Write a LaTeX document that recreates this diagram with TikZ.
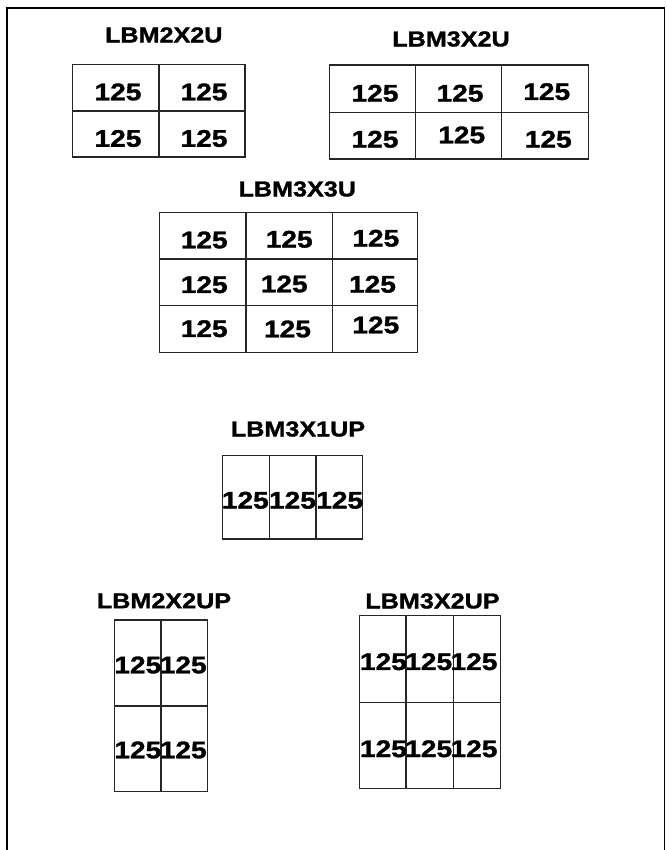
\documentclass[tikz,border=0pt]{standalone}
\usepackage{fontspec}
\newfontfamily\lbf{Liberation Sans Bold}[FakeStretch=1.17,FakeBold=1.4]
\begin{document}
\begin{tikzpicture}[x=1pt,y=-1pt,
  grd/.style={line width=1.2pt, draw=black!85},
  num/.style={font=\lbf\fontsize{24}{24}\selectfont, inner sep=0pt},
  ttl/.style={font=\lbf\fontsize{21.5}{21.5}\selectfont, inner sep=0pt}]
\useasboundingbox (0,0) rectangle (666,850);
% frame
\draw[line width=2.2pt] (7,850) -- (7,7.7) -- (664,7.7);
\draw[line width=1.2pt] (664.8,6.6) -- (664.8,850);

% ---------- LBM2X2U
\node[ttl] (t1) at (163.8,35) {LBM2X2U};
\draw[grd] (72.7,64.3) rectangle (245,157);
\draw[grd] (159,64.3) -- (159,157) (72.7,111) -- (245,111);
\node[num] (a11) at (118,92) {125};
\node[num] (a12) at (204,92) {125};
\node[num] (a21) at (118,138.5) {125};
\node[num] (a22) at (204,138.5) {125};

% ---------- LBM3X2U
\node[ttl] (t2) at (451,39) {LBM3X2U};
\draw[grd] (329.3,65) rectangle (588.3,159);
\draw[grd] (415.7,65) -- (415.7,159) (501.7,65) -- (501.7,159) (329.3,112.3) -- (588.3,112.3);
\node[num] (b11) at (375,93.3) {125};
\node[num] (b12) at (460,93.3) {125};
\node[num] (b13) at (546.7,91.7) {125};
\node[num] (b21) at (375,139.3) {125};
\node[num] (b22) at (461.7,135) {125};
\node[num] (b23) at (548.3,139.3) {125};

% ---------- LBM3X3U
\node[ttl] (t3) at (297.3,189) {LBM3X3U};
\draw[grd] (159.3,212.3) rectangle (417.7,352.3);
\draw[grd] (246,212.3) -- (246,352.3) (332.3,212.3) -- (332.3,352.3)
  (159.3,259) -- (417.7,259) (159.3,305.7) -- (417.7,305.7);
\node[num] (c11) at (204.2,240) {125};
\node[num] (c12) at (289.2,239.3) {125};
\node[num] (c13) at (375.8,238.3) {125};
\node[num] (c21) at (204.2,284.7) {125};
\node[num] (c22) at (284.2,284) {125};
\node[num] (c23) at (372.5,284.3) {125};
\node[num] (c31) at (204.2,328.7) {125};
\node[num] (c32) at (287.5,329) {125};
\node[num] (c33) at (375.8,325) {125};

% ---------- LBM3X1UP
\node[ttl] (t4) at (298,429) {LBM3X1UP};
\draw[grd] (222.7,455.7) rectangle (362.7,539);
\draw[grd] (269.3,455.7) -- (269.3,539) (316,455.7) -- (316,539);
\node[num] (d11) at (245.3,500.3) {125};
\node[num] (d12) at (292.5,500.3) {125};
\node[num] (d13) at (339.7,500.3) {125};

% ---------- LBM2X2UP
\node[ttl] (t5) at (164,600.8) {LBM2X2UP};
\draw[grd] (114.3,620) rectangle (207.7,791.7);
\draw[grd] (161,620) -- (161,791.7) (114.3,706) -- (207.7,706);
\node[num] (e11) at (137.8,665) {125};
\node[num] (e12) at (183.2,665) {125};
\node[num] (e21) at (137.8,750) {125};
\node[num] (e22) at (183.2,750) {125};

% ---------- LBM3X2UP
\node[ttl] (t6) at (432.5,601) {LBM3X2UP};
\draw[grd] (359.3,615.7) rectangle (500.7,788.3);
\draw[grd] (406,615.7) -- (406,788.3) (453.3,615.7) -- (453.3,788.3) (359.3,702.3) -- (500.7,702.3);
\node[num] (f11) at (383.4,661.7) {125};
\node[num] (f12) at (428.7,661.7) {125};
\node[num] (f13) at (474,661.7) {125};
\node[num] (f21) at (383.4,748.8) {125};
\node[num] (f22) at (428.7,748.8) {125};
\node[num] (f23) at (474,748.8) {125};
\end{tikzpicture}
\end{document}
